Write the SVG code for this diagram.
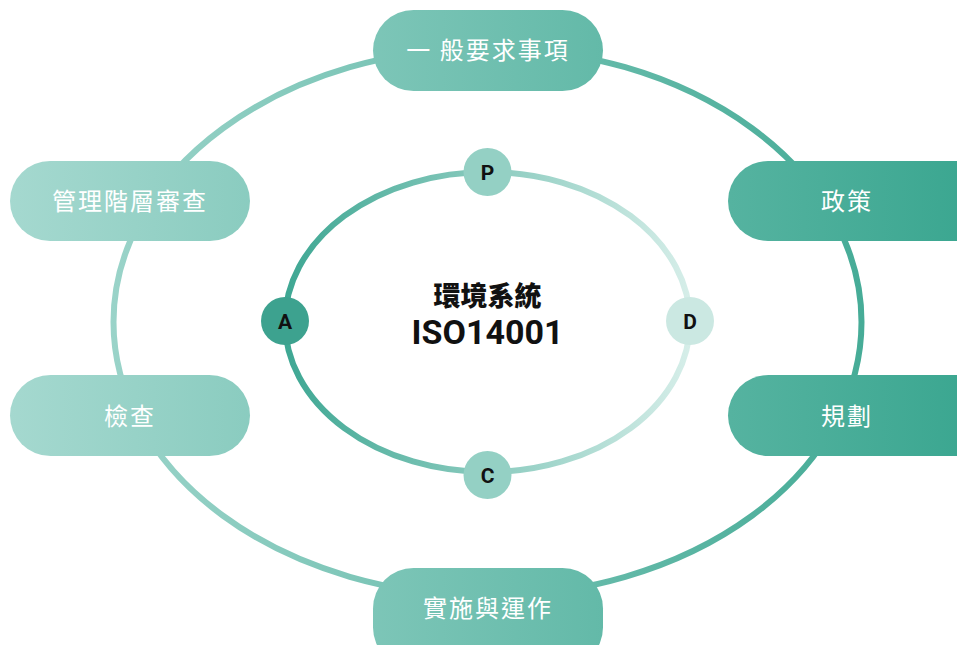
<svg xmlns="http://www.w3.org/2000/svg" width="957" height="645" viewBox="0 0 957 645">
<defs>
<linearGradient id="gOuter" gradientUnits="userSpaceOnUse" x1="0" y1="0" x2="957" y2="0">
<stop offset="0" stop-color="#a6d9d0"/>
<stop offset="1" stop-color="#3ca791"/>
</linearGradient>
<linearGradient id="gInner" gradientUnits="userSpaceOnUse" x1="285" y1="0" x2="690" y2="0">
<stop offset="0" stop-color="#3ea793"/>
<stop offset="1" stop-color="#d6eee9"/>
</linearGradient>
<style>
.node{fill:url(#gOuter);}
.lbl{font-family:"Noto Sans CJK TC","Noto Sans",sans-serif;font-size:24px;fill:#ffffff;text-anchor:middle;letter-spacing:2px;}
.pd{font-family:Roboto,"Liberation Sans",sans-serif;font-weight:700;font-size:21px;fill:#111111;text-anchor:middle;}
.ctr{font-family:"Noto Sans CJK TC",Roboto,sans-serif;font-weight:900;fill:#111111;text-anchor:middle;}
</style>
</defs>
<g id="connectors" fill="none">
<ellipse cx="487.5" cy="322" rx="374" ry="274" stroke="url(#gOuter)" stroke-width="6"/>
<ellipse cx="487.5" cy="322" rx="202.5" ry="150" stroke="url(#gInner)" stroke-width="6"/>
</g>
<g id="node-general"><rect class="node" x="373" y="10" width="230" height="81" rx="40.5"/><text class="lbl" x="488" y="59">一 般要求事項</text></g>
<g id="node-review"><rect class="node" x="10" y="161" width="240" height="80" rx="40"/><text class="lbl" x="130" y="210">管理階層審查</text></g>
<g id="node-policy"><rect class="node" x="728" y="161" width="270" height="80" rx="40"/><text class="lbl" x="847" y="210">政策</text></g>
<g id="node-check"><rect class="node" x="10" y="375" width="240" height="81" rx="40.5"/><text class="lbl" x="130" y="425">檢查</text></g>
<g id="node-plan"><rect class="node" x="728" y="375" width="270" height="81" rx="40.5"/><text class="lbl" x="847" y="425">規劃</text></g>
<g id="node-do"><rect class="node" x="373" y="568" width="230" height="100" rx="40.5"/><text class="lbl" x="488" y="617">實施與運作</text></g>
<g id="node-P"><circle cx="487.5" cy="172" r="24" fill="#94d0c4"/><text class="pd" x="487.5" y="180">P</text></g>
<g id="node-D"><circle cx="690" cy="321" r="24" fill="#cbe8e2"/><text class="pd" x="690" y="329">D</text></g>
<g id="node-C"><circle cx="487.5" cy="475" r="24" fill="#94d0c4"/><text class="pd" x="487.5" y="483">C</text></g>
<g id="node-A"><circle cx="285" cy="321" r="24" fill="#3da28f"/><text class="pd" x="285" y="329">A</text></g>
<g id="center"><text class="ctr" x="487.5" y="306" font-size="27">環境系統</text><text class="ctr" x="487.5" y="344" font-size="34" style="font-family:Roboto,'Liberation Sans',sans-serif;font-weight:700">ISO14001</text></g>
</svg>
